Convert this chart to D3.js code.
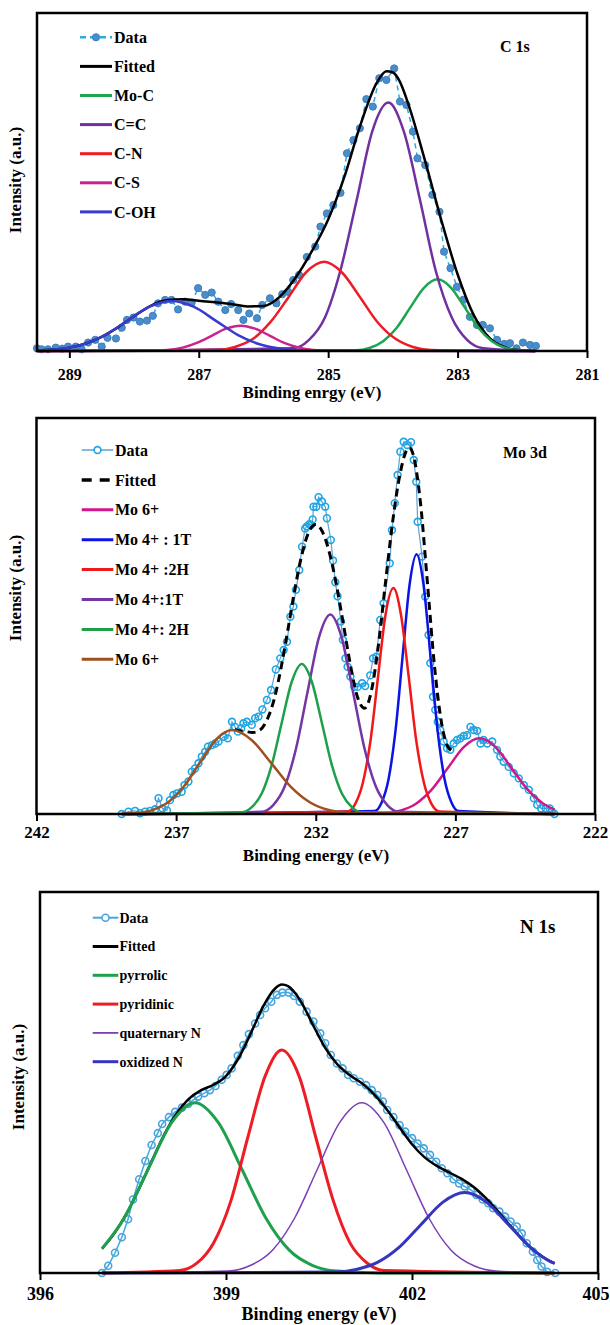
<!DOCTYPE html>
<html><head><meta charset="utf-8">
<script src="https://cdn.jsdelivr.net/npm/d3@7"></script>
<style>
html,body{margin:0;padding:0;background:#fff;}
svg{display:block;}
text{font-family:"Times New Roman","Liberation Serif",serif;font-weight:bold;fill:#000;}
</style></head><body>
<svg id="chart" width="610" height="1325"></svg>
<script>
// ---------- C 1s ----------
const c1sTicks = [289, 287, 285, 283, 281];
const c1sLegend = ["Data", "Fitted", "Mo-C", "C=C", "C-N", "C-S", "C-OH"];
const c1sData = [[289.50,0.8],[289.43,0.5],[289.33,0.5],[289.21,1.0],[289.11,0.7],[289.02,1.3],[288.90,1.3],[288.81,0.5],[288.71,2.5],[288.60,3.3],[288.50,1.3],[288.41,3.9],[288.28,3.7],[288.19,6.9],[288.11,9.2],[288.01,9.9],[287.91,8.7],[287.80,9.0],[287.71,10.4],[287.63,14.1],[287.52,15.1],[287.42,15.1],[287.32,12.3],[287.21,14.6],[287.11,14.3],[287.01,18.6],[286.90,16.6],[286.80,17.3],[286.70,14.6],[286.59,12.1],[286.50,13.9],[286.39,12.1],[286.31,9.2],[286.22,11.1],[286.10,9.7],[286.02,13.6],[285.90,15.6],[285.80,14.1],[285.71,16.8],[285.62,17.5],[285.54,21.0],[285.45,22.5],[285.33,27.8],[285.20,30.9],[285.12,36.8],[285.02,40.7],[284.92,43.2],[284.81,46.8],[284.71,58.5],[284.61,62.4],[284.51,65.9],[284.41,74.5],[284.31,72.3],[284.21,80.7],[284.10,80.2],[283.98,83.6],[283.89,73.8],[283.79,72.8],[283.69,64.9],[283.62,57.0],[283.50,55.0],[283.39,46.2],[283.28,41.2],[283.21,29.4],[283.11,24.5],[283.01,19.0],[282.91,15.1],[282.81,10.1],[282.70,7.7],[282.61,7.7],[282.50,6.7],[282.39,3.3],[282.28,2.1],[282.19,2.3],[282.09,0.8],[281.99,2.5],[281.88,1.8],[281.79,1.5]];
const c1sFitted = [[289.5,0.14],[289.0,1.0],[288.5,4.2],[288.25,7.0],[288.0,10.3],[287.75,13.3],[287.5,15.0],[287.25,15.3],[287.0,14.9],[286.75,14.4],[286.5,13.9],[286.25,13.2],[286.0,13.3],[285.75,16.0],[285.5,21.8],[285.25,29.6],[285.0,38.9],[284.75,51.5],[284.5,67.0],[284.25,79.3],[284.1,82.8],[284.0,82.4],[283.9,80.0],[283.75,72.4],[283.5,56.1],[283.25,38.6],[283.0,22.7],[282.75,10.6],[282.5,3.7],[282.25,1.0],[282.0,0.2],[281.8,0.03]];
const c1sMoC = [[289.5,0],[284.57,0.2],[284.36,0.9],[284.15,2.9],[283.94,6.9],[283.73,12.9],[283.52,18.7],[283.31,21.2],[283.10,18.7],[282.89,12.9],[282.68,6.9],[282.47,2.9],[282.26,0.9],[282.05,0.2],[281.8,0]];
const c1sCC = [[289.5,0],[285.54,0.8],[285.30,3.2],[285.05,9.9],[284.81,23.9],[284.56,44.6],[284.32,64.9],[284.07,73.5],[283.83,64.9],[283.58,44.6],[283.34,23.9],[283.09,9.9],[282.85,3.2],[282.60,0.8],[281.8,0]];
const c1sCN = [[289.5,0],[286.71,0.3],[286.44,1.2],[286.16,3.6],[285.89,8.6],[285.61,16.0],[285.34,23.3],[285.06,26.4],[284.79,23.3],[284.51,16.0],[284.24,8.6],[283.96,3.6],[283.69,1.2],[283.41,0.3],[281.8,0]];
const c1sCS = [[289.5,0],[287.70,0.08],[287.48,0.33],[287.25,1.0],[287.03,2.4],[286.80,4.5],[286.58,6.6],[286.35,7.5],[286.13,6.6],[285.90,4.5],[285.68,2.4],[285.45,1.0],[285.23,0.33],[285.00,0.08],[281.8,0]];
const c1sCOH = [[289.5,0.13],[289.12,0.65],[288.78,2.0],[288.44,4.8],[288.10,9.0],[287.76,13.1],[287.42,14.8],[287.08,13.1],[286.74,9.0],[286.40,4.8],[286.06,2.0],[285.72,0.65],[285.38,0.16],[281.8,0]];

// ---------- Mo 3d ----------
const mo3dTicks = [242, 237, 232, 227, 222];
const mo3dLegend = ["Data", "Fitted", "Mo 6+", "Mo 4+ : 1T", "Mo 4+ :2H", "Mo 4+:1T", "Mo 4+: 2H", "Mo 6+"];
const mo3dData = [[238.95,0.0],[238.71,0.6],[238.47,0.8],[238.29,0.2],[238.11,0.6],[237.93,0.8],[237.75,1.2],[237.63,4.0],[237.49,1.4],[237.33,0.9],[237.22,3.5],[237.10,4.8],[236.97,5.2],[236.80,5.6],[236.70,7.3],[236.56,8.2],[236.44,10.7],[236.32,11.5],[236.20,12.8],[236.08,14.5],[235.96,15.7],[235.86,17.0],[235.72,17.4],[235.60,17.8],[235.48,18.3],[235.30,19.5],[235.15,19.1],[235.00,23.3],[234.89,22.0],[234.79,20.8],[234.67,21.6],[234.59,22.9],[234.47,23.3],[234.29,22.5],[234.17,24.2],[234.05,24.6],[233.91,26.4],[233.75,28.8],[233.60,31.3],[233.43,36.5],[233.27,39.3],[233.15,41.4],[233.03,43.5],[232.91,49.8],[232.80,52.4],[232.71,56.6],[232.59,61.6],[232.49,67.5],[232.38,72.1],[232.32,72.6],[232.23,73.2],[232.17,73.0],[232.11,74.4],[232.08,77.6],[231.98,77.6],[231.90,80.0],[231.78,78.9],[231.66,77.6],[231.60,74.7],[231.46,69.2],[231.38,64.0],[231.30,58.5],[231.22,55.0],[231.10,48.6],[231.03,44.0],[230.94,39.3],[230.86,37.2],[230.76,34.7],[230.62,32.1],[230.50,32.1],[230.34,33.0],[230.23,32.3],[230.05,35.0],[229.95,39.3],[229.83,39.7],[229.69,49.0],[229.57,53.2],[229.35,63.3],[229.27,71.7],[229.17,78.5],[229.07,85.6],[228.97,91.5],[228.85,94.0],[228.73,93.2],[228.59,93.9],[228.49,89.4],[228.40,83.9],[228.35,73.8],[228.19,65.0],[228.08,54.9],[227.96,45.2],[227.90,38.1],[227.80,29.6],[227.72,26.3],[227.63,23.3],[227.54,21.2],[227.42,18.3],[227.30,16.6],[227.18,16.2],[227.06,17.8],[226.94,18.7],[226.82,19.1],[226.70,19.7],[226.58,19.9],[226.46,22.0],[226.34,21.2],[226.22,21.0],[226.10,17.8],[225.99,18.7],[225.86,17.8],[225.68,18.3],[225.51,16.2],[225.39,14.5],[225.27,13.2],[225.09,11.9],[224.91,10.3],[224.73,9.0],[224.55,7.3],[224.37,6.1],[224.19,4.0],[224.07,2.3],[223.93,1.4],[223.77,1.4],[223.62,1.4],[223.54,0.6],[223.45,0.0]];
const mo3dFitted = [[234.9,21.3],[234.5,20.8],[234.25,20.6],[234.0,21.2],[233.75,23.7],[233.5,28.7],[233.25,36.6],[233.0,46.4],[232.75,56.7],[232.5,65.4],[232.25,71.2],[232.0,73.1],[231.75,71.1],[231.5,65.7],[231.25,57.5],[231.0,47.5],[230.75,37.3],[230.5,29.4],[230.25,26.7],[230.0,31.3],[229.75,43.0],[229.5,58.6],[229.25,73.6],[229.0,85.2],[228.75,91.8],[228.65,92.5],[228.5,90.5],[228.25,78.6],[228.0,58.3],[227.75,37.5],[227.5,23.2],[227.25,16.8],[227.0,15.7]];
const mo3dMo6a = [[238.95,0],[229.55,0.2],[228.98,0.84],[228.41,2.6],[227.84,6.2],[227.27,11.6],[226.70,16.9],[226.13,19.1],[225.56,16.9],[224.99,11.6],[224.42,6.2],[223.85,2.6],[223.45,1.1]];
const mo3d1Ta = [[238.95,0],[229.89,0.73],[229.64,2.9],[229.39,8.9],[229.14,21.3],[228.89,39.8],[228.64,57.9],[228.39,65.6],[228.14,57.9],[227.89,39.8],[227.64,21.3],[227.39,8.9],[227.14,2.9],[226.89,0.73],[223.45,0]];
const mo3d2Ha = [[238.95,0],[230.87,0.63],[230.59,2.5],[230.32,7.7],[230.04,18.5],[229.77,34.6],[229.50,50.4],[229.22,57.1],[228.95,50.4],[228.67,34.6],[228.40,18.5],[228.12,7.7],[227.85,2.5],[227.57,0.63],[223.45,0]];
const mo3d1Tb = [[238.95,0],[233.94,0.56],[233.53,2.2],[233.12,6.8],[232.71,16.4],[232.30,30.6],[231.89,44.5],[231.48,50.4],[231.07,44.5],[230.66,30.6],[230.25,16.4],[229.84,6.8],[229.43,2.2],[229.02,0.56],[223.45,0]];
const mo3d2Hb = [[238.95,0],[234.66,0.42],[234.30,1.66],[233.94,5.1],[233.58,12.3],[233.22,23.0],[232.86,33.4],[232.50,37.9],[232.14,33.4],[231.78,23.0],[231.42,12.3],[231.06,5.1],[230.70,1.66],[230.34,0.42],[223.45,0]];
const mo3dMo6b = [[238.95,0],[238.45,0.24],[237.88,0.93],[237.30,2.9],[236.73,6.9],[236.15,12.9],[235.58,18.7],[235.00,21.2],[234.30,18.7],[233.60,12.9],[232.90,6.9],[232.20,2.9],[231.50,0.93],[230.80,0.24],[223.45,0]];

// ---------- N 1s ----------
const n1sTicks = [396, 399, 402, 405];
const n1sLegend = ["Data", "Fitted", "pyrrolic", "pyridinic", "quaternary N", "oxidized N"];
const n1sData = [[397.00,0.0],[397.10,1.9],[397.21,5.3],[397.32,9.4],[397.42,14.1],[397.50,19.3],[397.60,24.6],[397.70,29.4],[397.80,33.6],[397.90,36.7],[397.97,39.1],[398.08,40.9],[398.18,42.3],[398.29,43.4],[398.39,44.4],[398.47,45.4],[398.55,46.3],[398.65,47.2],[398.74,48.0],[398.83,49.1],[398.93,50.7],[399.01,52.0],[399.09,53.7],[399.19,57.0],[399.28,59.8],[399.37,62.7],[399.47,65.5],[399.55,67.7],[399.63,69.5],[399.73,71.2],[399.82,73.0],[399.91,73.6],[400.01,73.6],[400.10,72.7],[400.19,71.2],[400.30,68.6],[400.41,66.0],[400.52,62.9],[400.60,60.3],[400.69,57.2],[400.79,55.0],[400.88,53.7],[400.97,52.0],[401.06,51.1],[401.16,50.2],[401.26,49.3],[401.35,48.0],[401.44,46.7],[401.53,45.0],[401.60,42.8],[401.70,40.9],[401.80,38.8],[401.89,37.1],[402.00,35.4],[402.09,34.0],[402.19,32.7],[402.29,31.0],[402.39,29.2],[402.48,27.5],[402.57,26.2],[402.67,24.6],[402.76,23.5],[402.85,22.7],[402.95,21.8],[403.04,20.5],[403.14,19.3],[403.23,18.3],[403.31,17.0],[403.41,16.1],[403.50,14.8],[403.59,13.5],[403.69,12.2],[403.77,10.4],[403.85,7.8],[403.95,5.6],[404.02,3.4],[404.09,1.7],[404.18,0.3],[404.31,0.0]];
const n1sFitted = [[397.0,6.4],[397.2,10.4],[397.4,15.7],[397.6,22.2],[397.8,29.3],[398.0,36.2],[398.2,41.8],[398.4,45.7],[398.6,48.0],[398.8,49.4],[399.0,51.7],[399.2,56.3],[399.4,62.9],[399.6,70.0],[399.8,74.8],[399.9,75.7],[400.0,75.3],[400.2,71.5],[400.4,65.2],[400.6,59.1],[400.8,54.7],[401.0,51.9],[401.2,49.7],[401.4,46.7],[401.6,42.8],[401.8,38.2],[402.0,33.8],[402.2,30.4],[402.4,28.1],[402.6,26.4],[402.8,24.7],[403.0,22.5],[403.2,19.5],[403.4,15.9],[403.6,12.1],[403.8,8.5],[404.0,5.5],[404.2,3.3],[404.3,2.5]];
const n1sPyrrolic = [[397.0,6.4],[397.36,14.5],[397.74,27.1],[398.12,39.4],[398.50,44.7],[398.88,39.4],[399.26,27.1],[399.64,14.5],[400.02,6.0],[400.40,1.96],[400.78,0.5],[401.5,0.03],[404.3,0]];
const n1sPyridinic = [[397.0,0],[398.25,0.65],[398.53,2.57],[398.80,7.9],[399.08,19.0],[399.35,35.5],[399.63,51.6],[399.90,58.5],[400.18,51.6],[400.45,35.5],[400.73,19.0],[401.00,7.9],[401.28,2.57],[401.55,0.65],[404.3,0]];
const n1sQuaternary = [[397.0,0],[399.03,0.5],[399.39,1.96],[399.75,6.0],[400.11,14.5],[400.47,27.1],[400.83,39.4],[401.19,44.7],[401.55,39.4],[401.91,27.1],[402.27,14.5],[402.63,6.0],[402.99,1.96],[403.35,0.5],[404.3,0]];
const n1sOxidized = [[397.0,0],[400.75,0.23],[401.10,0.93],[401.45,2.85],[401.80,6.85],[402.15,12.8],[402.50,18.6],[402.85,21.1],[403.20,18.6],[403.55,12.8],[403.90,6.85],[404.25,2.85],[404.3,2.5]];

// ---------- drawing ----------
const svg = d3.select("#chart");
svg.append("rect").attr("width", 610).attr("height", 1325).attr("fill", "#fff");

function drawPanel(p) {
  const g = svg.append("g");
  const x = d3.scaleLinear().domain(p.xDomain).range([p.left, p.right]);
  const y = d3.scaleLinear().domain([0, 100]).range([p.bottom, p.top]);
  const sorted = arr => arr.slice().sort((a, b) => x(a[0]) - x(b[0]));
  const smooth = d3.line().x(d => x(d[0])).y(d => y(d[1])).curve(d3.curveMonotoneX);
  const straight = d3.line().x(d => x(d[0])).y(d => y(d[1]));

  // data
  const ds = p.dataStyle;
  g.append("path").attr("d", straight(sorted(p.data))).attr("fill", "none")
    .attr("stroke", ds.line).attr("stroke-width", ds.lineWidth)
    .attr("stroke-dasharray", ds.dash || null);
  g.append("g").selectAll("circle").data(p.data).join("circle")
    .attr("cx", d => x(d[0])).attr("cy", d => y(d[1])).attr("r", ds.r)
    .attr("fill", ds.fill).attr("stroke", ds.stroke).attr("stroke-width", ds.strokeWidth);

  // fitted
  g.append("path").attr("d", smooth(sorted(p.fitted))).attr("fill", "none")
    .attr("stroke", "#000").attr("stroke-width", p.fitStyle.width)
    .attr("stroke-dasharray", p.fitStyle.dash || null);

  // components
  p.comps.forEach(c => {
    g.append("path").attr("d", smooth(sorted(c.data))).attr("fill", "none")
      .attr("stroke", c.color).attr("stroke-width", c.width);
  });

  // frame
  g.append("rect").attr("x", p.left).attr("y", p.top)
    .attr("width", p.right - p.left).attr("height", p.bottom - p.top)
    .attr("fill", "none").attr("stroke", "#000").attr("stroke-width", 2.5);

  // x axis
  const ax = g.append("g").attr("transform", `translate(0,${p.bottom})`)
    .call(d3.axisBottom(x).tickValues(p.ticks).tickSize(7).tickSizeOuter(0).tickFormat(d3.format("d")));
  ax.select(".domain").remove();
  ax.selectAll(".tick line").attr("stroke", "#000").attr("stroke-width", 2);
  ax.selectAll(".tick text").attr("y", p.tickOffset).attr("dy", 0)
    .style("font-family", '"Times New Roman","Liberation Serif",serif')
    .style("font-weight", "bold").style("font-size", p.tickFont + "px").attr("fill", "#000")
    .attr("text-anchor", (d, i, n) => i === n.length - 1 && p.lastTickEnd ? "end" : "middle")
    .attr("dx", (d, i, n) => i === n.length - 1 && p.lastTickEnd ? p.lastTickEnd : 0);

  // axis titles
  g.append("text").attr("x", p.xLabelX).attr("y", p.xLabelY).attr("text-anchor", "middle")
    .style("font-size", p.xLabelFont + "px").text(p.xLabel);
  g.append("text").attr("transform", `translate(${p.yLabelX},${p.yLabelY}) rotate(-90)`)
    .attr("text-anchor", "middle").style("font-size", p.yLabelFont + "px").text("Intensity (a.u.)");

  // tag
  g.append("text").attr("x", p.tagX).attr("y", p.tagY).style("font-size", p.tagFont + "px").text(p.tag);

  // legend
  const L = p.legend;
  L.items.forEach((it, i) => {
    const yy = L.y0 + i * L.dy;
    const lg = g.append("g");
    lg.append("line").attr("x1", L.x0).attr("x2", L.x1).attr("y1", yy).attr("y2", yy)
      .attr("stroke", it.color).attr("stroke-width", it.width)
      .attr("stroke-dasharray", it.dash || null);
    if (it.marker) {
      lg.append("circle").attr("cx", (L.x0 + L.x1) / 2).attr("cy", yy).attr("r", ds.r)
        .attr("fill", ds.fill === "none" ? "#fff" : ds.fill).attr("stroke", ds.stroke).attr("stroke-width", ds.strokeWidth);
    }
    lg.append("text").attr("x", L.tx).attr("y", yy).attr("dy", "0.35em")
      .style("font-size", L.font + "px").text(L.labels[i]);
  });
}

// Panel 1: C 1s
drawPanel({
  left: 37, right: 587, top: 13, bottom: 351, xDomain: [289.5, 281], ticks: c1sTicks,
  tickFont: 16, tickOffset: 29,
  xLabel: "Binding enrgy (eV)", xLabelX: 312, xLabelY: 398, xLabelFont: 17,
  yLabelX: 21, yLabelY: 180, yLabelFont: 17,
  tag: "C 1s", tagX: 500, tagY: 52, tagFont: 16,
  data: c1sData,
  dataStyle: {line: "#29abe2", lineWidth: 1.5, dash: "5,4", r: 3.6, fill: "#4a8dca", stroke: "#3b7fc0", strokeWidth: 1},
  fitted: c1sFitted, fitStyle: {width: 2.5},
  comps: [
    {data: c1sMoC, color: "#1da552", width: 2.5},
    {data: c1sCC, color: "#7030a0", width: 2.5},
    {data: c1sCN, color: "#ee1c25", width: 2.5},
    {data: c1sCS, color: "#c8238f", width: 2.5},
    {data: c1sCOH, color: "#3a3ad0", width: 2.5}
  ],
  legend: {x0: 80, x1: 112, tx: 114, y0: 37.3, dy: 29.1, font: 16, labels: c1sLegend,
    items: [
      {color: "#29abe2", width: 2.5, dash: "6,4", marker: true},
      {color: "#000", width: 3},
      {color: "#1da552", width: 3},
      {color: "#7030a0", width: 3},
      {color: "#ee1c25", width: 3},
      {color: "#c8238f", width: 3},
      {color: "#3a3ad0", width: 3}
    ]}
});

// Panel 2: Mo 3d
drawPanel({
  left: 36.5, right: 595, top: 418, bottom: 814, xDomain: [242, 222], ticks: mo3dTicks,
  tickFont: 17, tickOffset: 24,
  xLabel: "Binding energy (eV)", xLabelX: 316, xLabelY: 861, xLabelFont: 17,
  yLabelX: 21, yLabelY: 588, yLabelFont: 17,
  tag: "Mo 3d", tagX: 503, tagY: 458, tagFont: 16,
  data: mo3dData,
  dataStyle: {line: "#5ba3d6", lineWidth: 1.2, r: 3.4, fill: "none", stroke: "#1ea5e3", strokeWidth: 1.6},
  fitted: mo3dFitted, fitStyle: {width: 3, dash: "8,5"},
  comps: [
    {data: mo3dMo6a, color: "#d2168c", width: 2.5},
    {data: mo3d1Ta, color: "#0a14e6", width: 2.5},
    {data: mo3d2Ha, color: "#f01818", width: 2.5},
    {data: mo3d1Tb, color: "#7535a5", width: 2.5},
    {data: mo3d2Hb, color: "#1ca04a", width: 2.5},
    {data: mo3dMo6b, color: "#a0501e", width: 2.5}
  ],
  legend: {x0: 81.7, x1: 113.3, tx: 115, y0: 450, dy: 29.9, font: 16, labels: mo3dLegend,
    items: [
      {color: "#5ba3d6", width: 1.5, marker: true},
      {color: "#000", width: 3.5, dash: "10,8"},
      {color: "#d2168c", width: 3},
      {color: "#0a14e6", width: 3},
      {color: "#f01818", width: 3},
      {color: "#7535a5", width: 3},
      {color: "#1ca04a", width: 3},
      {color: "#a0501e", width: 3}
    ]}
});

// Panel 3: N 1s
drawPanel({
  left: 40, right: 598, top: 892, bottom: 1273, xDomain: [396, 405], ticks: n1sTicks,
  tickFont: 18, tickOffset: 27, lastTickEnd: 11,
  xLabel: "Binding energy (eV)", xLabelX: 319, xLabelY: 1320, xLabelFont: 18,
  yLabelX: 24, yLabelY: 1077, yLabelFont: 17,
  tag: "N 1s", tagX: 520, tagY: 933, tagFont: 19,
  data: n1sData,
  dataStyle: {line: "#3fa9e0", lineWidth: 1.5, r: 3.5, fill: "none", stroke: "#4ba3d9", strokeWidth: 1.6},
  fitted: n1sFitted, fitStyle: {width: 2.5},
  comps: [
    {data: n1sPyrrolic, color: "#1ea04c", width: 3},
    {data: n1sPyridinic, color: "#ee1c24", width: 3},
    {data: n1sQuaternary, color: "#7a3fb5", width: 1.5},
    {data: n1sOxidized, color: "#3535c0", width: 3}
  ],
  legend: {x0: 92.7, x1: 118.3, tx: 119.5, y0: 917.7, dy: 28.8, font: 14, labels: n1sLegend,
    items: [
      {color: "#3fa9e0", width: 2, marker: true},
      {color: "#000", width: 3},
      {color: "#1ea04c", width: 3},
      {color: "#ee1c24", width: 3},
      {color: "#7a3fb5", width: 1.8},
      {color: "#3535c0", width: 3}
    ]}
});
</script></body></html>
